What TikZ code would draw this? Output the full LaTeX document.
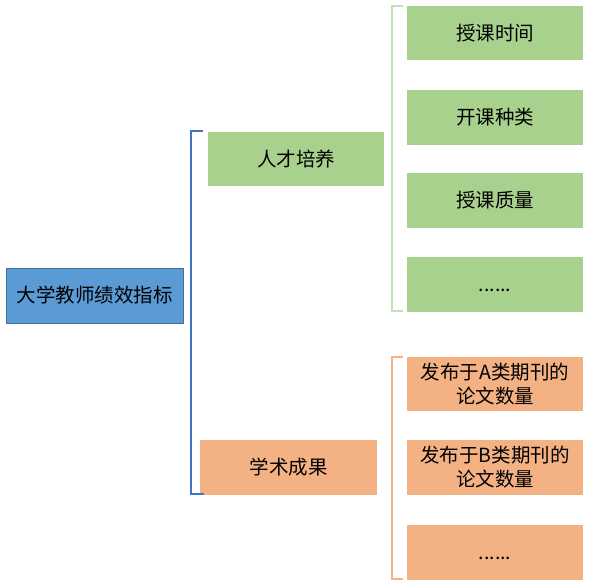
\documentclass[tikz,border=0pt]{standalone}
\usepackage{fontspec}
\setmainfont{Noto Sans CJK SC}
\definecolor{bluefill}{HTML}{5B9BD5}
\definecolor{blueline}{HTML}{41719C}
\definecolor{bracketblue}{HTML}{4472C4}
\definecolor{greenfill}{HTML}{A9D18E}
\definecolor{greenbr}{HTML}{C5E0B4}
\definecolor{orangefill}{HTML}{F4B183}
\definecolor{orangebr}{HTML}{F4B183}
\begin{document}
\begin{tikzpicture}[x=1pt,y=-1pt,
  box/.style={draw=none,inner sep=0pt,outer sep=0pt,align=center,font=\fontsize{19.5}{24}\selectfont,text=black},
  bracketline/.style={line width=1.6pt}]
\useasboundingbox (0,0) rectangle (597,588);
% root
\fill[bluefill,draw=blueline,line width=0.8pt] (6,268) rectangle (183,323);
\node[box] (root) at (94.5,295.5) {大学教师绩效指标};
% level 2
\fill[greenfill] (208,132) rectangle (384,186);
\node[box] (rc) at (296,159) {人才培养};
\fill[orangefill] (200,440) rectangle (377,495);
\node[box] (xs) at (288.5,467.5) {学术成果};
% level 3 green
\fill[greenfill] (407,6) rectangle (583,60);
\node[box] (g1) at (495,33) {授课时间};
\fill[greenfill] (407,90) rectangle (583,145);
\node[box] (g2) at (495,117.5) {开课种类};
\fill[greenfill] (407,173) rectangle (583,228);
\node[box] (g3) at (495,200.5) {授课质量};
\fill[greenfill] (407,257) rectangle (583,312);
\node[box] (g4) at (495,284.5) {\vphantom{字}......};
% level 3 orange
\fill[orangefill] (407,357) rectangle (583,411);
\node[box] (o1) at (495,384) {发布于A类期刊的\\论文数量};
\fill[orangefill] (407,440) rectangle (583,495);
\node[box] (o2) at (495,467.5) {发布于B类期刊的\\论文数量};
\fill[orangefill] (407,525) rectangle (583,580);
\node[box] (o3) at (495,552.5) {\vphantom{字}......};
% brackets
\coordinate (bt) at (203,131);
\coordinate (bb) at (204,494);
\draw[bracketline,bracketblue] (bt) -- (191,131) -- (191,494) -- (bb);
\coordinate (gt) at (403,6);
\coordinate (gb) at (403,311);
\draw[bracketline,greenbr] (gt) -- (392,6) -- (392,311) -- (gb);
\coordinate (ot) at (403,357);
\coordinate (ob) at (403,579);
\draw[bracketline,orangebr] (ot) -- (392,357) -- (392,579) -- (ob);
\end{tikzpicture}
\end{document}
